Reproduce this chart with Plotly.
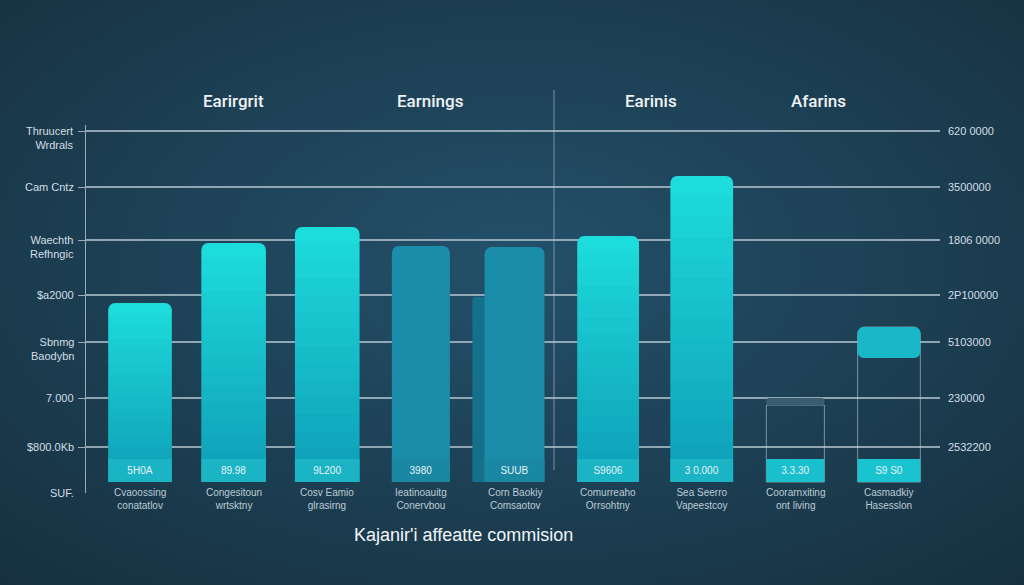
import base64
import plotly.graph_objects as go

# ---------------- data ----------------
categories = [
    "Cvaoossing<br>conatatlov",
    "Congesitoun<br>wrtsktny",
    "Cosv Eamio<br>glrasirng",
    "Ieatinoauitg<br>Conervbou",
    "Corn Baokiy<br>Comsaotov",
    "Comurreaho<br>Orrsohtny",
    "Sea Seerro<br>Vapeestcoy",
    "Coorarnxiting<br>ont living",
    "Casmadkiy<br>Hasesslon",
]
earnings = [17900, 23900, 25500, 23600, 23500, 24600, 30600, 7700, 15500]
shadow_values = [None, None, None, None, 18500, None, None, None, None]
cap_base = [None, None, None, None, None, None, None, 7700, 12400]
cap_height = [None, None, None, None, None, None, None, 700, 3100]
pill_height = [2300] * 9
value_labels = ["5H0A", "89.98", "9L200", "3980", "SUUB", "S9606", "3 0.000", "3.3.30", "S9 S0"]

grid_values = [35100, 29500, 24200, 18700, 14000, 8400, 3500]
left_labels = ["Thruucert<br>Wrdrals", "Cam Cntz", "Waechth<br>Refhngic", "$a2000",
               "Sbnmg<br>Baodybn", "7.000", "$800.0Kb"]
bottom_left_label = "SUF."
right_labels = ["620 0000", "3500000", "1806 0000", "2P100000", "5103000", "230000", "2532200"]

headers = ["Earirgrit", "Earnings", "Earinis", "Afarins"]
title_text = "Kajanir'i affeatte commision"

# ---------------- styles ----------------
BRIGHT = "#1ddcdc"
DARK = "#1a8dab"
bright_mask = [True, True, True, False, False, True, True, False, False]
bar_colors = [BRIGHT, BRIGHT, BRIGHT, DARK, DARK, BRIGHT, BRIGHT, "rgba(0,0,0,0)", "rgba(0,0,0,0)"]
bar_lines = ["rgba(0,0,0,0)"] * 7 + ["rgba(200,215,225,0.55)"] * 2
bar_widths = [0.68, 0.69, 0.69, 0.62, 0.64, 0.66, 0.67, 0.62, 0.67]
pill_colors = ["#1bb4c4", "#1bb4c4", "#1bb4c4", "#1a87a3", "#1a87a3", "#1bb4c4", "#1bb4c4",
               "#19bfcc", "#19c3cf"]
cap_colors = ["rgba(0,0,0,0)"] * 7 + ["#3a5e70", "#18b8c8"]
TXT = "#d3dee5"
SHADE_STEPS = 14

fig = go.Figure()

fig.add_trace(go.Bar(
    x=categories, y=shadow_values, width=0.25, offset=-0.45,
    marker=dict(color="#15708b", cornerradius=4, line=dict(width=0)),
    hoverinfo="skip", showlegend=False,
))
fig.add_trace(go.Bar(
    x=categories, y=earnings, width=bar_widths,
    marker=dict(color=bar_colors, line=dict(color=bar_lines, width=1), cornerradius=7),
    showlegend=False,
))
# soft vertical shading (gradient look) on the bright bars
for k in range(1, SHADE_STEPS + 1):
    frac = 1 - k / (SHADE_STEPS + 1)
    fig.add_trace(go.Bar(
        x=categories, y=[e * frac if m else None for e, m in zip(earnings, bright_mask)],
        width=bar_widths,
        marker=dict(color="rgba(0,8,80,0.021)", line=dict(width=0)),
        hoverinfo="skip", showlegend=False,
    ))
fig.add_trace(go.Bar(
    x=categories, y=cap_height, base=cap_base, width=bar_widths,
    marker=dict(color=cap_colors, cornerradius=6, line=dict(width=0)),
    hoverinfo="skip", showlegend=False,
))
fig.add_trace(go.Bar(
    x=categories, y=pill_height, width=bar_widths,
    marker=dict(color=pill_colors, cornerradius=6, line=dict(width=0)),
    text=value_labels, textposition="inside", insidetextanchor="middle",
    textfont=dict(size=10, color="#e6f2f5", family="Liberation Sans"),
    hoverinfo="skip", showlegend=False,
))

# background gradient
svg = ('<svg xmlns="http://www.w3.org/2000/svg" width="1024" height="585">'
       '<defs><radialGradient id="g" cx="50%" cy="45%" r="75%">'
       '<stop offset="0" stop-color="#24506a"/><stop offset="1" stop-color="#16303f"/>'
       '</radialGradient></defs><rect width="1024" height="585" fill="url(#g)"/></svg>')
bg_src = "data:image/svg+xml;base64," + base64.b64encode(svg.encode()).decode()

L, R, T, B = 86, 84, 125, 92
PW, PH = 1024 - L - R, 585 - T - B

annotations = []
for v, lab in zip(grid_values, left_labels):
    annotations.append(dict(
        x=0, xref="paper", y=v, yref="y", xanchor="right", yanchor="middle",
        xshift=-10, yshift=(-7 if "<br>" in lab else 0), text=lab, showarrow=False,
        align="right", font=dict(size=11, color=TXT, family="Liberation Sans"),
    ))
annotations.append(dict(
    x=0, xref="paper", y=0, yref="paper", xanchor="right", yanchor="middle",
    xshift=-10, text=bottom_left_label, showarrow=False,
    font=dict(size=11, color=TXT, family="Liberation Sans"),
))
for v, lab in zip(grid_values, right_labels):
    annotations.append(dict(
        x=1, xref="paper", y=v, yref="y", xanchor="left", yanchor="middle",
        xshift=6, text=lab, showarrow=False,
        font=dict(size=11, color=TXT, family="Liberation Sans"),
    ))
for c in categories:
    annotations.append(dict(
        x=c, xref="x", y=0, yref="paper", xanchor="center", yanchor="top",
        yshift=8, text=c, showarrow=False,
        font=dict(size=10, color="#bccbd4", family="Liberation Sans"),
    ))
header_px = [233, 430, 651, 818]
for px, h in zip(header_px, headers):
    annotations.append(dict(
        x=(px - L) / PW, xref="paper", y=(585 - B - 101) / PH, yref="paper",
        xanchor="center", yanchor="middle", text=h, showarrow=False,
        font=dict(size=17, color="#eef3f6", family="Roboto", weight=500),
    ))
annotations.append(dict(
    x=(463 - L) / PW, xref="paper", y=(585 - B - 535) / PH, yref="paper",
    xanchor="center", yanchor="middle", text=title_text, showarrow=False,
    font=dict(size=18, color="#f2f6f8", family="Liberation Sans"),
))

shapes = [dict(
    type="line", xref="paper", yref="paper",
    x0=(554 - L) / PW, x1=(554 - L) / PW, y0=(585 - B - 470) / PH, y1=(585 - B - 90) / PH,
    line=dict(color="rgba(180,198,210,0.6)", width=1),
)]

fig.update_layout(
    width=1024, height=585,
    margin=dict(l=L, r=R, t=T, b=B),
    paper_bgcolor="#1d3f53", plot_bgcolor="rgba(0,0,0,0)",
    barmode="overlay",
    images=[dict(source=bg_src, xref="paper", yref="paper", x=-L / PW, y=1 + T / PH,
                 sizex=1024 / PW, sizey=585 / PH, sizing="stretch", layer="below",
                 xanchor="left", yanchor="top")],
    xaxis=dict(range=[-0.577, 8.545], showgrid=False, showline=False, zeroline=False,
               ticks="", showticklabels=False),
    yaxis=dict(range=[-1100, 35700], tickvals=grid_values, showticklabels=False,
               showgrid=True, gridcolor="rgba(190,205,215,0.72)", gridwidth=1.5,
               zeroline=False, showline=True, linecolor="rgba(185,200,210,0.8)", linewidth=1,
               ticks="outside", ticklen=7, tickcolor="rgba(185,200,210,0.8)"),
    annotations=annotations,
    shapes=shapes,
    bargap=0.3,
)

fig.write_html("out.html")
